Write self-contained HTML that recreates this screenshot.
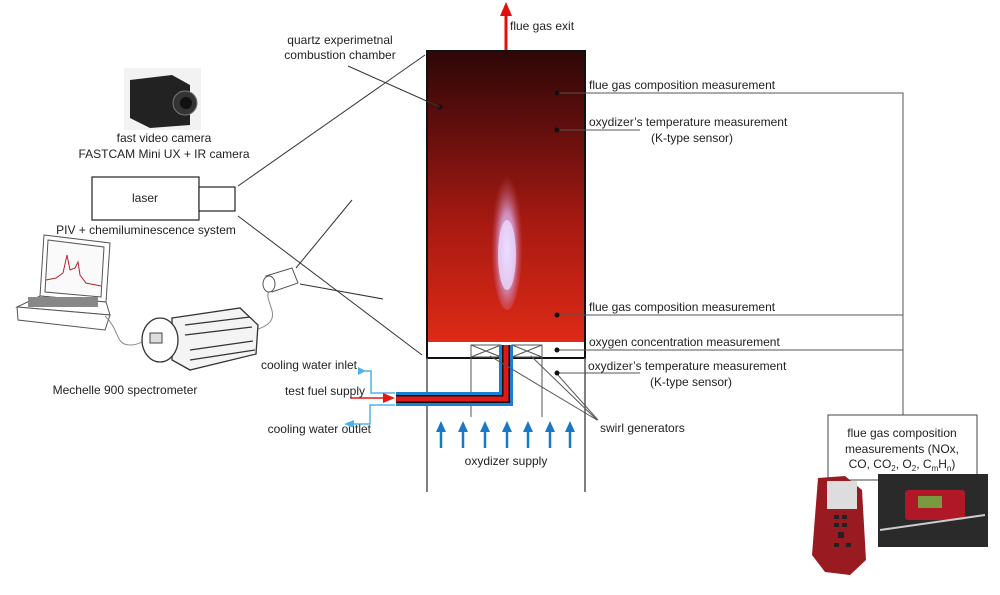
<!DOCTYPE html>
<html><head><meta charset="utf-8"><style>
html,body{margin:0;padding:0;background:#fff;width:1000px;height:595px;overflow:hidden}
svg{display:block;font-family:"Liberation Sans",sans-serif}
text{font-size:12px;fill:#222}
</style></head><body>
<svg width="1000" height="595" viewBox="0 0 1000 595" xmlns="http://www.w3.org/2000/svg">
<defs>
<linearGradient id="ch" x1="0" y1="0" x2="0" y2="1">
<stop offset="0" stop-color="#2e0707"/><stop offset="0.25" stop-color="#5e0e0c"/><stop offset="0.6" stop-color="#a81a12"/><stop offset="1" stop-color="#de2a16"/>
</linearGradient>
<radialGradient id="fl" cx="0.5" cy="0.6" r="0.5">
<stop offset="0" stop-color="#f0e4ff"/><stop offset="0.5" stop-color="#d9a8e8" stop-opacity="0.8"/><stop offset="1" stop-color="#c05060" stop-opacity="0"/>
</radialGradient>
</defs>
<!-- exhaust arrow -->
<line x1="506" y1="50" x2="506" y2="14" stroke="#e01010" stroke-width="3"/>
<polygon points="506,2 500,16 512,16" fill="#e01010"/>
<text x="510" y="30">flue gas exit</text>
<!-- chamber -->
<rect x="427" y="51" width="158" height="291" fill="url(#ch)"/>
<ellipse cx="507" cy="235" rx="16" ry="75" fill="url(#fl)"/>
<ellipse cx="507" cy="255" rx="9" ry="35" fill="#eadcff" opacity="0.75"/>
<rect x="427" y="342" width="158" height="16" fill="#fff"/>
<rect x="427" y="51" width="158" height="307" fill="none" stroke="#111" stroke-width="2"/>
<!-- lower walls -->
<line x1="427" y1="358" x2="427" y2="492" stroke="#555" stroke-width="1.5"/>
<line x1="585" y1="358" x2="585" y2="492" stroke="#555" stroke-width="1.5"/>
<line x1="471" y1="345" x2="471" y2="417" stroke="#555"/>
<line x1="542" y1="345" x2="542" y2="417" stroke="#555"/>
<g stroke="#555" fill="none">
<rect x="471" y="345" width="30" height="12"/><path d="M471,345L501,357M501,345L471,357"/>
<rect x="512" y="345" width="30" height="12"/><path d="M512,345L542,357M542,345L512,357"/>
</g>
<!-- fuel pipe -->
<path d="M396,399 H506 V345" fill="none" stroke="#1a7fd0" stroke-width="14"/>
<path d="M396,399 H506 V345" fill="none" stroke="#111" stroke-width="8"/>
<path d="M396,399 H506 V345" fill="none" stroke="#e01818" stroke-width="5"/>
<!-- cooling lines -->
<path d="M395,393 H371 V371 H360" fill="none" stroke="#4fb3e8" stroke-width="1.5"/>
<polygon points="358,371 366,367 366,375" fill="#4fb3e8" transform="rotate(180 362 371)"/>
<path d="M395,405 H370 V424 H352" fill="none" stroke="#4fb3e8" stroke-width="1.5"/>
<polygon points="344,424 354,420 354,428" fill="#4fb3e8"/>
<line x1="350" y1="398" x2="385" y2="398" stroke="#e01818" stroke-width="1.5"/>
<polygon points="395,398 383,393 383,403" fill="#e01818"/>
<text x="357" y="369" text-anchor="end">cooling water inlet</text>
<text x="365" y="395" text-anchor="end">test fuel supply</text>
<text x="371" y="433" text-anchor="end">cooling water outlet</text>
<!-- oxidizer arrows -->
<g fill="#1a78c8" stroke="#1a78c8" stroke-width="2.5">
<line x1="441" y1="448" x2="441" y2="430"/><polygon points="441,421 436,432 446,432" stroke="none"/>
<line x1="463" y1="448" x2="463" y2="430"/><polygon points="463,421 458,432 468,432" stroke="none"/>
<line x1="485" y1="448" x2="485" y2="430"/><polygon points="485,421 480,432 490,432" stroke="none"/>
<line x1="507" y1="448" x2="507" y2="430"/><polygon points="507,421 502,432 512,432" stroke="none"/>
<line x1="528" y1="448" x2="528" y2="430"/><polygon points="528,421 523,432 533,432" stroke="none"/>
<line x1="550" y1="448" x2="550" y2="430"/><polygon points="550,421 545,432 555,432" stroke="none"/>
<line x1="570" y1="448" x2="570" y2="430"/><polygon points="570,421 565,432 575,432" stroke="none"/>
</g>
<text x="506" y="465" text-anchor="middle">oxydizer supply</text>
<!-- measurement lines -->
<g stroke="#555" fill="none">
<path d="M557,93 H903 V415"/>
<path d="M557,315 H903"/>
<path d="M557,350 H903"/>
<path d="M557,130 H640"/>
<path d="M557,373 H640"/>
<path d="M490,356 L597,420"/>
<path d="M531,356 L597,420"/>
<path d="M557,374 L598,420" />
</g>
<g fill="#111">
<circle cx="557" cy="93" r="2.5"/><circle cx="557" cy="130" r="2.5"/><circle cx="557" cy="315" r="2.5"/><circle cx="557" cy="350" r="2.5"/><circle cx="557" cy="373" r="2.5"/><circle cx="440" cy="107" r="2.5"/>
</g>
<text x="589" y="89">flue gas composition measurement</text>
<text x="589" y="126">oxydizer’s temperature measurement</text>
<text x="651" y="142">(K-type sensor)</text>
<text x="589" y="311">flue gas composition measurement</text>
<text x="589" y="346">oxygen concentration measurement</text>
<text x="588" y="370">oxydizer’s temperature measurement</text>
<text x="650" y="386">(K-type sensor)</text>
<text x="600" y="432">swirl generators</text>
<!-- quartz label -->
<text x="340" y="44" text-anchor="middle">quartz experimetnal</text>
<text x="340" y="59" text-anchor="middle">combustion chamber</text>
<g stroke="#333" fill="none">
<path d="M348,66 L440,107"/>
<path d="M238,186 L425,55"/>
<path d="M238,216 L422,355"/>
<path d="M352,200 L296,268"/>
<path d="M300,284 L383,299"/>
</g>
<!-- camera -->
<rect x="124" y="68" width="77" height="62" fill="#f2f2f2"/>
<polygon points="130,80 172,75 190,85 190,125 150,128 130,118" fill="#222"/>
<circle cx="185" cy="103" r="12" fill="#333" stroke="#777"/>
<circle cx="186" cy="103" r="6" fill="#111"/>
<text x="164" y="142" text-anchor="middle">fast video camera</text>
<text x="164" y="158" text-anchor="middle">FASTCAM Mini UX + IR camera</text>
<!-- laser -->
<rect x="92" y="177" width="107" height="43" fill="#fff" stroke="#222" stroke-width="1.2"/>
<rect x="199" y="187" width="36" height="24" fill="#fff" stroke="#222" stroke-width="1.2"/>
<text x="145" y="202" text-anchor="middle">laser</text>
<text x="146" y="234" text-anchor="middle">PIV + chemiluminescence system</text>
<!-- laptop -->
<g stroke="#555" fill="#fff">
<polygon points="44,235 110,243 106,302 40,296"/>
<polygon points="48,240 104,247 101,297 45,292" fill="#fafafa"/>
<polygon points="40,296 106,302 110,315 17,307"/>
<polygon points="17,307 110,315 105,330 18,320"/>
</g>
<rect x="28" y="297" width="70" height="10" fill="#888"/>
<path d="M46,280 L56,278 L63,273 L67,255 L70,270 L75,268 L78,262 L80,275 L86,283 L101,286" fill="none" stroke="#c02030" stroke-width="1"/>
<!-- cable -->
<path d="M105,316 C120,330 115,345 130,345 C140,345 145,340 150,335" fill="none" stroke="#888"/>
<path d="M255,330 C290,320 260,300 270,290" fill="none" stroke="#888"/>
<!-- fiber collimator -->
<g stroke="#555" fill="#fff">
<path d="M266,276 L292,268 L298,283 L272,292 Z"/>
<ellipse cx="269" cy="284" rx="6" ry="8"/>
</g>
<!-- spectrometer -->
<g stroke="#333" fill="#f4f4f4" stroke-width="1.3">
<path d="M172,318 L240,308 L258,325 L256,354 L190,370 L172,360 Z"/>
<ellipse cx="160" cy="340" rx="18" ry="22" fill="#fff"/>
<path d="M185,325 L250,317 M185,335 L252,327 M190,350 L253,341 M190,360 L255,350" fill="none"/>
</g>
<rect x="150" y="333" width="12" height="10" fill="#ddd" stroke="#444"/>
<text x="125" y="394" text-anchor="middle">Mechelle 900 spectrometer</text>
<!-- analyzer box -->
<rect x="828" y="415" width="149" height="65" fill="#fff" stroke="#444"/>
<text x="902" y="437" text-anchor="middle">flue gas composition</text>
<text x="902" y="453" text-anchor="middle">measurements (NOx,</text>
<text x="902" y="468" text-anchor="middle">CO, CO<tspan font-size="8" dy="3">2</tspan><tspan dy="-3">, O</tspan><tspan font-size="8" dy="3">2</tspan><tspan dy="-3">, C</tspan><tspan font-size="8" dy="3">m</tspan><tspan dy="-3">H</tspan><tspan font-size="8" dy="3">n</tspan><tspan dy="-3">)</tspan></text>
<!-- devices -->
<rect x="878" y="474" width="110" height="73" fill="#2a2a2a"/>
<rect x="905" y="490" width="60" height="30" rx="3" fill="#b01828"/>
<rect x="918" y="496" width="24" height="12" fill="#7a9a40"/>
<line x1="880" y1="530" x2="985" y2="515" stroke="#ccc" stroke-width="2"/>
<path d="M818,478 L845,476 L862,490 L866,560 L850,575 L825,572 L812,555 Z" fill="#9a1a22"/>
<rect x="827" y="481" width="30" height="28" fill="#ddd"/>
<g fill="#222"><rect x="834" y="515" width="5" height="4"/><rect x="842" y="515" width="5" height="4"/><rect x="834" y="523" width="5" height="4"/><rect x="842" y="523" width="5" height="4"/><rect x="838" y="532" width="6" height="6"/><rect x="834" y="543" width="5" height="4"/><rect x="846" y="543" width="5" height="4"/></g>
</svg>
</body></html>
